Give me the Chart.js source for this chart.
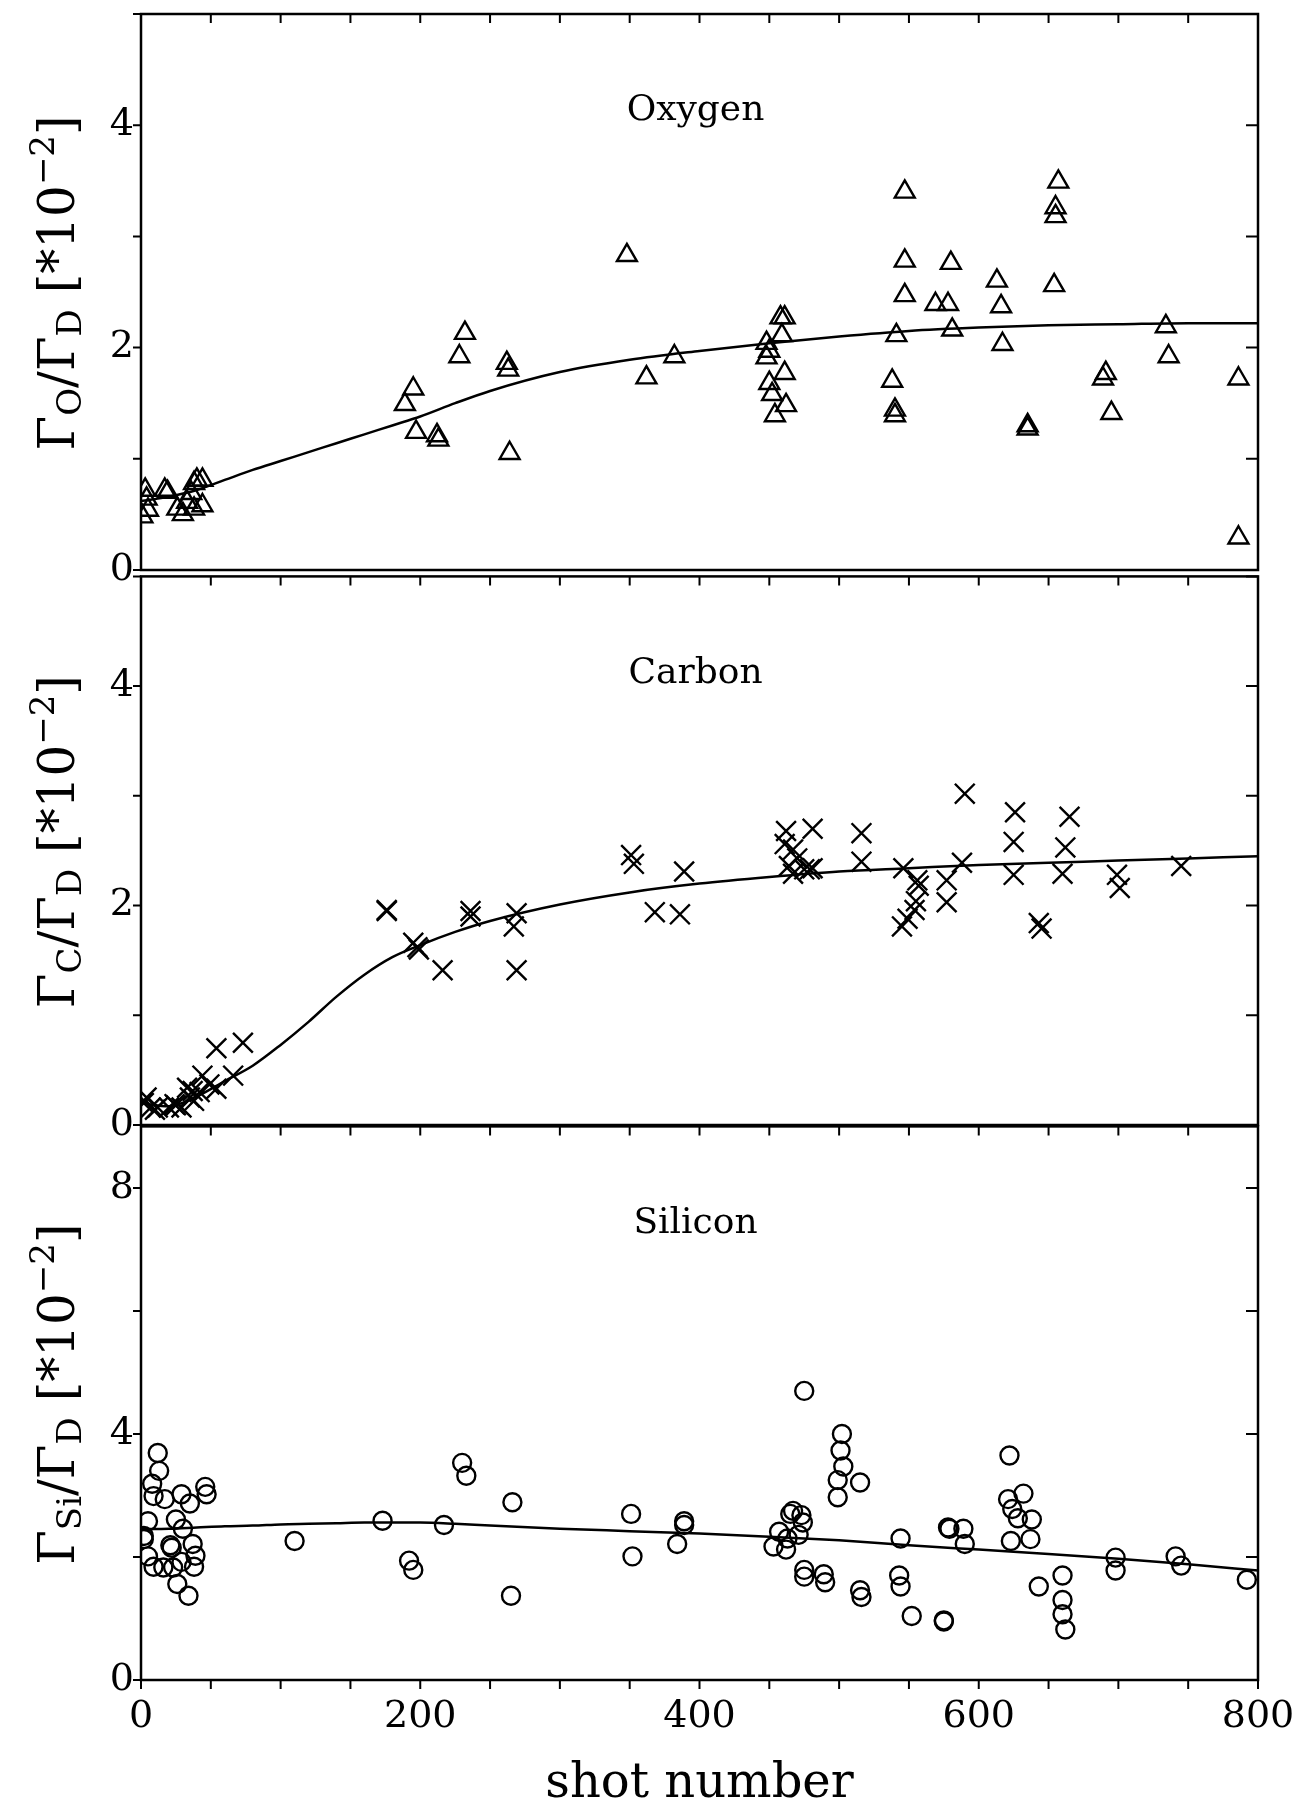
<!DOCTYPE html>
<html>
<head>
<meta charset="utf-8">
<title>Impurity flux ratios vs shot number</title>
<script src="https://cdn.jsdelivr.net/npm/chart.js@4.4.1/dist/chart.umd.min.js"></script>
<style>
  html, body { margin: 0; padding: 0; background: #fff; }
  body { width: 1305px; height: 1816px; position: relative; overflow: hidden; }
  canvas { position: absolute; left: 0; }
  #cO { top: 0; }
  #cC { top: 560px; }
  #cSi { top: 1115px; }
</style>
</head>
<body>
<canvas id="cO" width="1305" height="600"></canvas>
<canvas id="cC" width="1305" height="595"></canvas>
<canvas id="cSi" width="1305" height="701"></canvas>
<script>
/* ===== Data ===== */
const shotLabels = [0, 200, 400, 600, 800];
const ratioLabels = [0, 2, 4];       // O and C panels
const siliconLabels = [0, 4, 8];     // Si panel

// smooth fit curves, sampled along shot number
const fitShot = [0, 20, 40, 60, 80, 100, 120, 140, 160, 180, 200, 225, 250, 300, 350, 400, 450, 500, 550, 600, 650, 700, 750, 800];
const oxygenFit = [0.62, 0.66, 0.72, 0.81, 0.90, 0.98, 1.06, 1.14, 1.22, 1.30, 1.38, 1.50, 1.61, 1.78, 1.89, 1.97, 2.04, 2.10, 2.15, 2.18, 2.20, 2.21, 2.22, 2.22];
const carbonFit = [0.20, 0.17, 0.26, 0.40, 0.54, 0.73, 0.94, 1.17, 1.37, 1.53, 1.64, 1.76, 1.86, 2.01, 2.12, 2.20, 2.26, 2.31, 2.34, 2.37, 2.39, 2.41, 2.43, 2.45];
const siliconFit = [2.45, 2.46, 2.48, 2.50, 2.51, 2.53, 2.54, 2.55, 2.56, 2.56, 2.56, 2.54, 2.51, 2.46, 2.42, 2.38, 2.33, 2.27, 2.19, 2.12, 2.05, 1.97, 1.88, 1.78];

// Oxygen (triangles)
const oxygenShot = [1, 3, 4, 5, 17, 19, 26, 30, 33, 36, 38, 38, 40, 44, 44,
  189, 195, 197, 212, 213, 228, 232, 262, 263, 264, 348, 362, 382,
  448, 450, 448, 450, 452, 454, 458, 461, 459, 461, 462,
  538, 540, 540, 541, 547, 547, 547, 569, 578, 580, 581,
  613, 616, 617, 635, 635, 654, 655, 655, 657, 689, 691, 695, 734, 736, 786, 786];
const oxygenRatio = [0.48, 0.72, 0.64, 0.54, 0.72, 0.70, 0.55, 0.50, 0.61, 0.69, 0.78, 0.55, 0.81, 0.81, 0.58,
  1.49, 1.63, 1.24, 1.21, 1.17, 1.92, 2.13, 1.86, 1.80, 1.05, 2.83, 1.73, 1.92,
  2.04, 1.97, 1.91, 1.68, 1.58, 1.39, 2.27, 2.27, 2.11, 1.77, 1.48,
  1.70, 1.44, 1.39, 2.11, 3.40, 2.78, 2.47, 2.39, 2.39, 2.76, 2.16,
  2.60, 2.37, 2.03, 1.30, 1.27, 2.56, 3.26, 3.18, 3.49, 1.72, 1.77, 1.41, 2.19, 1.92, 1.72, 0.29];

// Carbon (crosses)
const carbonShot = [2, 4, 7, 10, 12, 20, 24, 25, 29, 33, 35, 37, 38, 42, 44, 49, 54, 54, 66, 73,
  176, 176, 195, 198, 199, 216, 236, 236, 267, 269, 269, 351, 353, 368, 386, 389,
  461, 462, 464, 467, 467, 470, 475, 479, 481, 481, 516, 516, 545, 546, 549, 554, 555, 556, 557,
  577, 577, 588, 590, 625, 625, 626, 643, 645, 660, 662, 665, 699, 701, 745];
const carbonRatio = [0.20, 0.25, 0.16, 0.14, 0.16, 0.16, 0.19, 0.18, 0.16, 0.34, 0.25, 0.31, 0.22, 0.30, 0.45, 0.37, 0.33, 0.70, 0.45, 0.75,
  1.96, 1.95, 1.66, 1.62, 1.60, 1.41, 1.95, 1.90, 1.81, 1.93, 1.41, 2.46, 2.38, 1.94, 1.92, 2.31,
  2.56, 2.68, 2.36, 2.51, 2.29, 2.43, 2.33, 2.33, 2.34, 2.70, 2.40, 2.66, 1.81, 2.34, 1.88, 1.96, 2.04, 2.23, 2.18,
  2.23, 2.03, 2.39, 3.02, 2.28, 2.58, 2.85, 1.84, 1.79, 2.29, 2.53, 2.81, 2.28, 2.16, 2.36];

// Silicon (circles)
const siliconShot = [2, 2, 5, 5, 8, 9, 9, 12, 13, 16, 17, 21, 22, 23, 25, 26, 29, 29, 30, 34, 35, 37, 38, 39, 46, 47,
  110, 173, 192, 195, 217, 230, 233, 265, 266, 351, 352,
  384, 389, 389, 453, 457, 462, 463, 465, 467, 471, 473, 474, 475, 475, 475, 489, 490,
  499, 499, 501, 502, 503, 515, 515, 516, 543, 544, 544, 552, 575, 575, 578, 579, 589, 590,
  621, 622, 623, 624, 628, 632, 637, 638, 643, 660, 660, 660, 662, 698, 698, 741, 745, 792];
const siliconRatio = [2.29, 2.34, 2.58, 2.01, 3.19, 2.99, 1.84, 3.69, 3.40, 1.83, 2.94, 2.19, 2.15, 1.83, 2.61, 1.56, 3.02, 1.92, 2.46, 1.37, 2.87, 2.21, 1.84, 2.02, 3.14, 3.02,
  2.26, 2.59, 1.94, 1.79, 2.52, 3.53, 3.32, 1.37, 2.89, 2.70, 2.01,
  2.21, 2.52, 2.58, 2.17, 2.41, 2.12, 2.30, 2.70, 2.75, 2.36, 2.68, 2.56, 4.70, 1.79, 1.68, 1.72, 1.59,
  2.97, 3.25, 3.73, 4.00, 3.47, 3.21, 1.46, 1.35, 1.70, 1.52, 2.30, 1.04, 0.97, 0.95, 2.48, 2.46, 2.46, 2.21,
  2.94, 3.65, 2.26, 2.78, 2.63, 3.03, 2.29, 2.61, 1.52, 1.70, 1.30, 1.07, 0.82, 1.99, 1.78, 2.01, 1.86, 1.63];

/* ===== Helpers ===== */
const FONT = "'DejaVu Serif', 'Liberation Serif', serif";
const toPoints = (xs, ys) => xs.map((x, i) => ({ x, y: ys[i] }));

// rotated y title with sub/superscripts: k = 0 normal, 1 sub, 2 sup
function drawRotTitle(ctx, parts, cx, cy) {
  ctx.save();
  ctx.translate(cx, cy);
  ctx.rotate(-Math.PI / 2);
  ctx.textAlign = 'left';
  ctx.textBaseline = 'alphabetic';
  const fontOf = k => (k === 0 ? '50px ' : '34px ') + FONT;
  let total = 0;
  parts.forEach(([t, k]) => { ctx.font = fontOf(k); total += ctx.measureText(t).width; });
  let u = -total / 2;
  parts.forEach(([t, k]) => {
    ctx.font = fontOf(k);
    const v = k === 1 ? 7 : (k === 2 ? -20 : 0);
    ctx.fillText(t, u, v);
    u += ctx.measureText(t).width;
  });
  ctx.restore();
}

/* frame, inward ticks, element name and y title */
const panelDecor = {
  id: 'panelDecor',
  afterDraw(chart, args, o) {
    const { ctx, chartArea: a, scales: { x, y } } = chart;
    ctx.save();
    ctx.strokeStyle = '#000';
    ctx.fillStyle = '#000';
    ctx.lineWidth = 2.5;
    ctx.strokeRect(a.left, a.top, a.right - a.left, a.bottom - a.top);

    ctx.lineWidth = 2;
    ctx.beginPath();
    x.ticks.forEach(t => {
      const px = x.getPixelForValue(t.value);
      ctx.moveTo(px, a.top); ctx.lineTo(px, a.top + 9);
      if (o.bottomTicks) { ctx.moveTo(px, a.bottom); ctx.lineTo(px, a.bottom + 9); }
    });
    y.ticks.forEach(t => {
      const py = y.getPixelForValue(t.value);
      ctx.moveTo(a.left - 8, py); ctx.lineTo(a.left, py);
      ctx.moveTo(a.right, py); ctx.lineTo(a.right - 12, py);
    });
    ctx.stroke();

    ctx.font = '36px ' + FONT;
    ctx.textAlign = 'center';
    ctx.textBaseline = 'middle';
    ctx.fillText(o.label, (a.left + a.right) / 2 - 4, a.top + 97);

    drawRotTitle(ctx, o.title, 74, (a.top + a.bottom) / 2 - 9);
    ctx.restore();
  }
};

function makePanel(canvasId, cfg) {
  return new Chart(document.getElementById(canvasId), {
    type: 'scatter',
    data: {
      datasets: [
        {
          data: toPoints(fitShot, cfg.fit),
          showLine: true,
          borderColor: '#000',
          borderWidth: 2.5,
          pointRadius: 0,
          cubicInterpolationMode: 'monotone',
          fill: false
        },
        {
          data: toPoints(cfg.shots, cfg.values),
          pointStyle: cfg.marker,
          pointRadius: cfg.radius,
          pointBorderWidth: 2.4,
          pointBorderColor: '#000',
          pointBackgroundColor: 'rgba(0,0,0,0)'
        }
      ]
    },
    options: {
      responsive: false,
      animation: false,
      events: [],
      layout: { padding: { top: cfg.padTop, left: 0, right: 47, bottom: 0 } },
      plugins: {
        legend: { display: false },
        tooltip: { enabled: false },
        panelDecor: { label: cfg.label, title: cfg.title, bottomTicks: cfg.showX }
      },
      scales: {
        x: {
          type: 'linear',
          min: 0, max: 800,
          grid: { display: false, drawTicks: false },
          border: { display: false },
          ticks: {
            display: cfg.showX,
            stepSize: 50,
            autoSkip: false,
            maxRotation: 0,
            padding: 14,
            color: '#000',
            font: { family: FONT, size: 38 },
            callback: v => shotLabels.includes(v) ? String(v) : ''
          },
          title: {
            display: cfg.showX,
            text: 'shot number',
            color: '#000',
            font: { family: FONT, size: 48, lineHeight: 1 },
            padding: { top: 0, bottom: 7 }
          },
          afterFit: s => { s.height = cfg.xHeight; s.paddingLeft = 0; s.paddingRight = 0; }
        },
        y: {
          min: 0, max: cfg.yMax,
          grid: { display: false, drawTicks: false },
          border: { display: false },
          ticks: {
            stepSize: cfg.yStep,
            includeBounds: false,
            autoSkip: false,
            padding: 7,
            color: '#000',
            font: { family: FONT, size: 38 },
            callback: v => cfg.yLabels.includes(v) ? String(v) : ''
          },
          afterFit: s => { s.width = 141; s.paddingTop = 0; s.paddingBottom = 0; }
        }
      }
    },
    plugins: [panelDecor]
  });
}

makePanel('cO', {
  fit: oxygenFit, shots: oxygenShot, values: oxygenRatio,
  marker: 'triangle', radius: 11.5,
  label: 'Oxygen',
  title: [['Γ', 0], ['O', 1], ['/Γ', 0], ['D', 1], [' [*10', 0], ['−2', 2], [']', 0]],
  yMax: 5, yStep: 1, yLabels: ratioLabels,
  padTop: 14, xHeight: 30, showX: false
});

makePanel('cC', {
  fit: carbonFit, shots: carbonShot, values: carbonRatio,
  marker: 'crossRot', radius: 14,
  label: 'Carbon',
  title: [['Γ', 0], ['C', 1], ['/Γ', 0], ['D', 1], [' [*10', 0], ['−2', 2], [']', 0]],
  yMax: 5, yStep: 1, yLabels: ratioLabels,
  padTop: 10, xHeight: 30, showX: false
});

makePanel('cSi', {
  fit: siliconFit, shots: siliconShot, values: siliconRatio,
  marker: 'circle', radius: 9,
  label: 'Silicon',
  title: [['Γ', 0], ['Si', 1], ['/Γ', 0], ['D', 1], [' [*10', 0], ['−2', 2], [']', 0]],
  yMax: 9, yStep: 2, yLabels: siliconLabels,
  padTop: 10, xHeight: 136, showX: true
});
</script>
</body>
</html>
